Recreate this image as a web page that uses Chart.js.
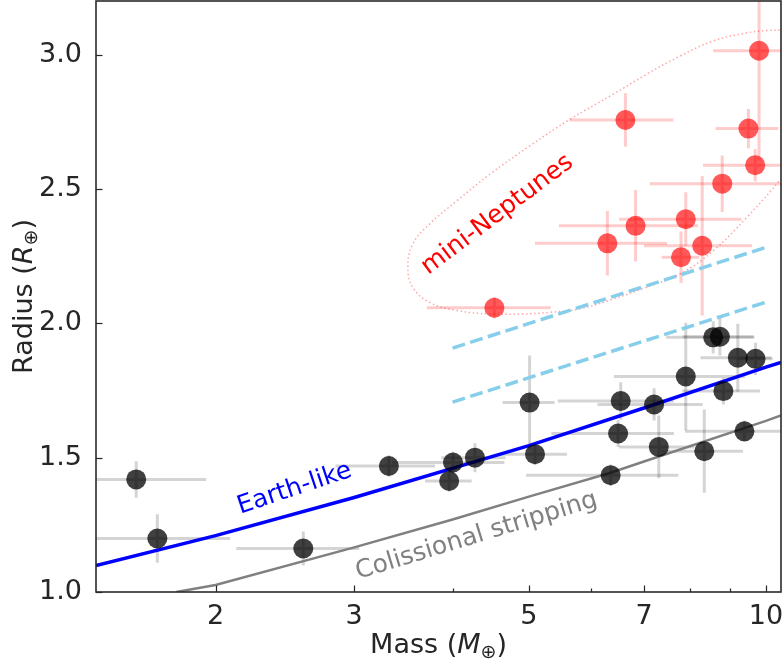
<!DOCTYPE html>
<html><head><meta charset="utf-8">
<script src="https://cdn.jsdelivr.net/npm/chart.js@4.4.0/dist/chart.umd.min.js"></script>
<style>html,body{margin:0;padding:0;background:#fff;}canvas{display:block;}</style>
</head><body>
<canvas id="c" width="782" height="661"></canvas>
<script>
// ---- tick definitions ----
const massTicks = [2, 3, 4, 5, 6, 7, 8, 9, 10];
const massTickLabels = ['2', '3', '', '5', '', '7', '', '', '10'];
const radiusTicks = [1.0, 1.5, 2.0, 2.5, 3.0];
const radiusTickLabels = ['1.0', '1.5', '2.0', '2.5', '3.0'];

// ---- rocky planets (black) ----
const rockyMass      = [1.586, 1.687, 2.585, 3.32, 4.005, 3.96, 4.27, 5.01, 5.09, 6.35, 6.49, 6.54, 7.31, 7.21, 7.91, 8.35, 8.57, 8.74, 9.21, 9.70, 8.83, 9.39];
const rockyRadius    = [1.419, 1.199, 1.162, 1.469, 1.482, 1.413, 1.500, 1.705, 1.513, 1.435, 1.590, 1.711, 1.540, 1.698, 1.802, 1.524, 1.948, 1.950, 1.872, 1.868, 1.748, 1.598];
const rockyMassErr   = [0.36, 0.40, 0.46, 0.48, 0.65, 0.27, 0.40, 0.38, 0.50, 1.39, 1.15, 1.10, 0.80, 1.10, 1.50, 1.00, 1.10, 0.90, 0.95, 0.50, 1.00, 1.50];
const rockyRadiusErr = [0.068, 0.090, 0.063, 0.040, 0.040, 0.040, 0.054, 0.175, 0.040, 0.040, 0.050, 0.070, 0.117, 0.060, 0.200, 0.155, 0.060, 0.070, 0.127, 0.060, 0.050, 0.040];

// ---- mini-Neptunes (red) ----
const neptuneMass      = [9.80, 9.50, 9.69, 8.80, 6.63, 6.29, 6.83, 7.91, 8.30, 7.80, 4.52];
const neptuneRadius    = [3.015, 2.725, 2.589, 2.520, 2.757, 2.298, 2.363, 2.388, 2.289, 2.246, 2.058];
const neptuneMassErr   = [1.23, 0.87, 1.37, 1.68, 1.00, 1.20, 1.37, 1.40, 1.30, 0.43, 0.81];
const neptuneRadiusErr = [0.41, 0.073, 0.060, 0.105, 0.100, 0.120, 0.133, 0.100, 0.260, 0.096, 0.040];

// ---- model curves ----
const earthMass   = [1.41, 2, 3, 5, 7, 10, 10.45];
const earthRadius = [1.098, 1.21, 1.352, 1.545, 1.685, 1.837, 1.855];
const stripMass   = [1.783, 2, 3, 4, 5, 6.35, 7, 10, 10.45];
const stripRadius = [1.0, 1.026, 1.166, 1.27, 1.355, 1.444, 1.486, 1.637, 1.657];
const dashUpperMass = [4.0, 10.0];
const dashUpperRadius = [1.908, 2.283];
const dashLowerMass = [4.0, 10.0];
const dashLowerRadius = [1.707, 2.079];

// ---- mini-Neptune region outline ----
const ellipseMass   = [11.44, 10.98, 10.48, 10.02, 9.45, 8.57, 7.78, 7.05, 6.40, 5.64, 5.01, 4.46, 4.05, 3.74, 3.56, 3.51, 3.56, 3.74, 4.05, 4.46, 4.92, 5.31, 5.80, 6.40, 7.05, 7.78, 8.57, 9.45, 10.48, 11.05, 11.54, 11.44];
const ellipseRadius = [2.995, 3.077, 3.090, 3.090, 3.081, 3.051, 2.995, 2.927, 2.853, 2.760, 2.660, 2.555, 2.456, 2.370, 2.295, 2.208, 2.134, 2.078, 2.048, 2.035, 2.035, 2.041, 2.054, 2.091, 2.134, 2.184, 2.270, 2.394, 2.543, 2.642, 2.828, 2.995];

// ---- text annotations ----
const annotations = [
  { text: 'Earth-like', mass: 2.52, radius: 1.384, angle: -18.5, color: '#0000ff' },
  { text: 'Colissional stripping', mass: 4.29, radius: 1.208, angle: -17, color: '#808080' },
  { text: 'mini-Neptunes', mass: 4.56, radius: 2.404, angle: -37, color: '#ff0000' }
];

const FONT = "'DejaVu Sans', sans-serif";
const TEXT_COLOR = '#262626';
const zip = (xs, ys) => xs.map((x, i) => ({ x: x, y: ys[i] }));

function drawMixed(ctx, parts, cx, baseline) {
  let total = 0;
  parts.forEach(p => { ctx.font = p.font; p.w = ctx.measureText(p.t).width; total += p.w; });
  let x = cx - total / 2;
  ctx.textAlign = 'left';
  ctx.textBaseline = 'alphabetic';
  parts.forEach(p => { ctx.font = p.font; ctx.fillText(p.t, x, baseline + (p.dy || 0)); x += p.w; });
}

const decor = {
  id: 'decor',
  beforeDraw(chart) {
    const ctx = chart.ctx;
    ctx.save();
    ctx.fillStyle = '#ffffff';
    ctx.fillRect(0, 0, chart.width, chart.height);
    ctx.restore();
  },
  beforeDatasetsDraw(chart) {
    const ctx = chart.ctx, a = chart.chartArea;
    const xs = chart.scales.x, ys = chart.scales.y;
    ctx.save();
    ctx.beginPath();
    ctx.rect(a.left, a.top, a.right - a.left, a.bottom - a.top);
    ctx.clip();
    ctx.lineWidth = 3;
    ctx.lineCap = 'butt';
    const bars = (m, r, em, er, color) => {
      ctx.strokeStyle = color;
      for (let i = 0; i < m.length; i++) {
        const px = xs.getPixelForValue(m[i]), py = ys.getPixelForValue(r[i]);
        ctx.beginPath();
        ctx.moveTo(xs.getPixelForValue(m[i] - em[i]), py);
        ctx.lineTo(xs.getPixelForValue(m[i] + em[i]), py);
        ctx.moveTo(px, ys.getPixelForValue(r[i] - er[i]));
        ctx.lineTo(px, ys.getPixelForValue(r[i] + er[i]));
        ctx.stroke();
      }
    };
    bars(rockyMass, rockyRadius, rockyMassErr, rockyRadiusErr, 'rgba(0,0,0,0.17)');
    bars(neptuneMass, neptuneRadius, neptuneMassErr, neptuneRadiusErr, 'rgba(255,0,0,0.2)');
    ctx.restore();
  },
  afterDatasetsDraw(chart) {
    const ctx = chart.ctx;
    const xs = chart.scales.x, ys = chart.scales.y;
    ctx.save();
    ctx.font = '25px ' + FONT;
    ctx.textAlign = 'center';
    ctx.textBaseline = 'middle';
    annotations.forEach(an => {
      ctx.save();
      ctx.translate(xs.getPixelForValue(an.mass), ys.getPixelForValue(an.radius));
      ctx.rotate(an.angle * Math.PI / 180);
      ctx.fillStyle = an.color;
      ctx.fillText(an.text, 0, 0);
      ctx.restore();
    });
    ctx.restore();
  },
  afterDraw(chart) {
    const ctx = chart.ctx, a = chart.chartArea;
    const xs = chart.scales.x, ys = chart.scales.y;
    ctx.save();
    // inward tick marks
    ctx.strokeStyle = TEXT_COLOR;
    ctx.lineWidth = 1.2;
    massTicks.forEach((v, i) => {
      const px = Math.round(xs.getPixelForValue(v)) + 0.5;
      const len = massTickLabels[i] ? 6.5 : 3.5;
      ctx.beginPath(); ctx.moveTo(px, a.bottom); ctx.lineTo(px, a.bottom - len); ctx.stroke();
    });
    radiusTicks.forEach(v => {
      const py = Math.round(ys.getPixelForValue(v)) + 0.5;
      ctx.beginPath(); ctx.moveTo(a.left, py); ctx.lineTo(a.left + 6.5, py); ctx.stroke();
    });
    // frame
    ctx.lineWidth = 1.6;
    ctx.strokeStyle = '#2a2a2a';
    ctx.strokeRect(a.left, a.top, a.right - a.left, a.bottom - a.top);
    // axis titles
    ctx.fillStyle = TEXT_COLOR;
    drawMixed(ctx, [
      { t: 'Mass (', font: '27px ' + FONT },
      { t: 'M', font: 'italic 27px ' + FONT },
      { t: '\u2295', font: '19px ' + FONT, dy: 5 },
      { t: ')', font: '27px ' + FONT }
    ], (a.left + a.right) / 2, 653);
    ctx.save();
    ctx.translate(32, (a.top + a.bottom) / 2);
    ctx.rotate(-Math.PI / 2);
    drawMixed(ctx, [
      { t: 'Radius (', font: '27px ' + FONT },
      { t: 'R', font: 'italic 27px ' + FONT },
      { t: '\u2295', font: '19px ' + FONT, dy: 5 },
      { t: ')', font: '27px ' + FONT }
    ], 0, 0);
    ctx.restore();
    ctx.restore();
  }
};

const lineDs = (label, m, r, color, width, extra) => Object.assign({
  label: label, type: 'scatter', data: zip(m, r), showLine: true,
  borderColor: color, backgroundColor: color, borderWidth: width,
  pointRadius: 0, pointHoverRadius: 0, fill: false
}, extra || {});

new Chart(document.getElementById('c'), {
  type: 'scatter',
  data: {
    datasets: [
      { label: 'rocky', data: zip(rockyMass, rockyRadius), pointRadius: 10, pointHoverRadius: 10,
        backgroundColor: 'rgba(0,0,0,0.75)', borderWidth: 0, order: 1 },
      { label: 'mini-Neptunes', data: zip(neptuneMass, neptuneRadius), pointRadius: 10, pointHoverRadius: 10,
        backgroundColor: 'rgba(255,0,0,0.65)', borderWidth: 0, order: 0 },
      lineDs('Earth-like', earthMass, earthRadius, '#0000ff', 3.5, { order: 3 }),
      lineDs('Collisional stripping', stripMass, stripRadius, '#808080', 2.5, { order: 4 }),
      lineDs('upper dashed', dashUpperMass, dashUpperRadius, '#87ceeb', 3.5, { borderDash: [13, 5.5], order: 5 }),
      lineDs('lower dashed', dashLowerMass, dashLowerRadius, '#87ceeb', 3.5, { borderDash: [13, 5.5], order: 5 }),
      lineDs('region', ellipseMass, ellipseRadius, 'rgba(255,0,0,0.35)', 1.5, { borderDash: [1.5, 2.6], tension: 0.4, order: 6 })
    ]
  },
  options: {
    responsive: false,
    animation: false,
    devicePixelRatio: 1,
    layout: { autoPadding: false, padding: { top: 1, right: 1, left: 0, bottom: 0 } },
    elements: { line: { capBezierPoints: false } },
    plugins: { legend: { display: false }, tooltip: { enabled: false } },
    events: [],
    scales: {
      x: {
        type: 'logarithmic', min: 1.41, max: 10.45, bounds: 'data',
        afterBuildTicks: s => { s.ticks = massTicks.map(v => ({ value: v })); },
        afterFit: s => { s.height = 69; s.paddingLeft = 0; s.paddingRight = 0; },
        ticks: { autoSkip: false, maxRotation: 0, minRotation: 0, padding: 1,
          callback: (v, i) => massTickLabels[i], color: TEXT_COLOR, font: { family: FONT, size: 27 } },
        grid: { display: false },
        border: { display: false },
        title: { display: false }
      },
      y: {
        type: 'linear', min: 1.0, max: 3.2, bounds: 'data',
        afterBuildTicks: s => { s.ticks = radiusTicks.map(v => ({ value: v })); },
        afterFit: s => { s.width = 96; s.paddingTop = 0; s.paddingBottom = 0; },
        ticks: { autoSkip: false, padding: 6,
          callback: (v, i) => radiusTickLabels[i], color: TEXT_COLOR, font: { family: FONT, size: 27 } },
        grid: { display: false },
        border: { display: false },
        title: { display: false }
      }
    }
  },
  plugins: [decor]
});
</script>
</body></html>
